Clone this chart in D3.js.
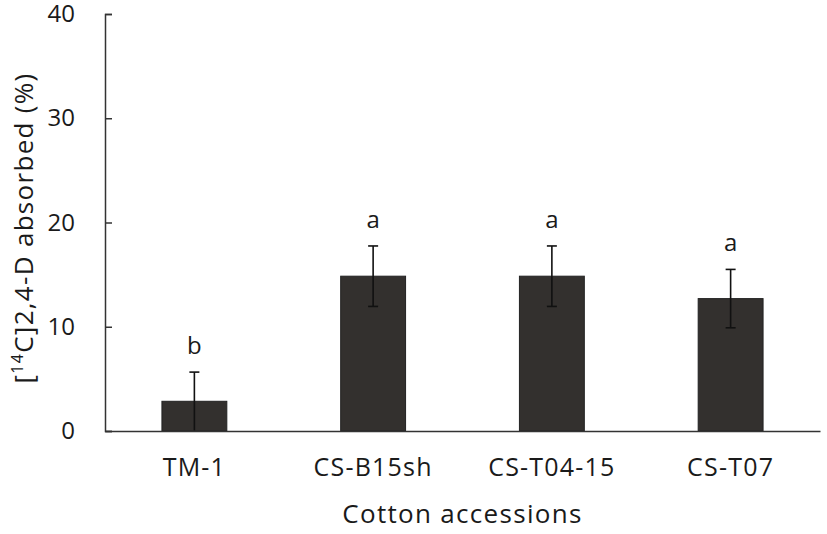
<!DOCTYPE html>
<html>
<head>
<meta charset="utf-8">
<script src="https://cdn.jsdelivr.net/npm/d3@7"></script>
<style>
  html, body { margin: 0; padding: 0; background: #fff; }
  svg { display: block; }
  text { font-family: "Open Sans", sans-serif; fill: #1a1a1a; }
</style>
</head>
<body>
<svg id="chart" width="827" height="534"></svg>
<script>
const categories = ["TM-1", "CS-B15sh", "CS-T04-15", "CS-T07"];
const values = [2.85, 14.85, 14.85, 12.7];
const errors = [2.8, 2.9, 2.9, 2.8];
const letters = ["b", "a", "a", "a"];
const yTicks = [0, 10, 20, 30, 40];

const svg = d3.select("#chart");
const mLeft = 105, mRight = 820, mTop = 14, mBottom = 431;

const x = d3.scaleBand().domain(categories).range([mLeft, mRight])
  .paddingInner(0.637).paddingOuter(0.3185);
const y = d3.scaleLinear().domain([0, 40]).range([mBottom, mTop]);

// bars
svg.selectAll("rect.bar").data(categories).enter().append("rect")
  .attr("class", "bar")
  .attr("x", d => x(d))
  .attr("width", x.bandwidth())
  .attr("y", (d, i) => y(values[i]))
  .attr("height", (d, i) => y(0) - y(values[i]))
  .attr("fill", "#33302e")
  .attr("stroke", "#222")
  .attr("stroke-width", 1);

// error bars
const cx = d => x(d) + x.bandwidth() / 2;
const eg = svg.append("g").attr("stroke", "#111").attr("stroke-width", 1.6);
categories.forEach((c, i) => {
  const lo = Math.max(0, values[i] - errors[i]);
  const hi = values[i] + errors[i];
  eg.append("line").attr("x1", cx(c)).attr("x2", cx(c)).attr("y1", y(lo)).attr("y2", y(hi));
  eg.append("line").attr("x1", cx(c) - 5).attr("x2", cx(c) + 5).attr("y1", y(hi)).attr("y2", y(hi));
  if (values[i] - errors[i] > 0.5) {
    eg.append("line").attr("x1", cx(c) - 5).attr("x2", cx(c) + 5).attr("y1", y(lo)).attr("y2", y(lo));
  }
});

// significance letters
svg.selectAll("text.sig").data(categories).enter().append("text")
  .attr("class", "sig")
  .attr("x", d => cx(d))
  .attr("y", (d, i) => y(values[i] + errors[i]) - 18)
  .attr("text-anchor", "middle")
  .attr("font-size", 24)
  .text((d, i) => letters[i]);

// y axis
const yAxis = d3.axisLeft(y).tickValues(yTicks).tickSize(-7).tickPadding(30).tickFormat(d3.format("d"));
const gy = svg.append("g").attr("transform", `translate(${mLeft},0)`).call(yAxis);
gy.select(".domain").attr("stroke", "#333").attr("stroke-width", 1.5);
gy.selectAll(".tick line").attr("stroke", "#333").attr("stroke-width", 1.5);
gy.selectAll(".tick text").attr("font-size", 24).attr("font-family", "Open Sans, sans-serif").attr("fill", "#1a1a1a");

// x axis
const xAxis = d3.axisBottom(x).tickSize(0).tickPadding(27);
const gx = svg.append("g").attr("transform", `translate(0,${mBottom})`).call(xAxis);
gx.select(".domain").attr("stroke", "#333").attr("stroke-width", 1.5);
gx.selectAll(".tick text").attr("font-size", 25).attr("letter-spacing", 1.2)
  .attr("font-family", "Open Sans, sans-serif").attr("fill", "#1a1a1a");

// axis titles
svg.append("text")
  .attr("x", (mLeft + mRight) / 2).attr("y", 523)
  .attr("text-anchor", "middle").attr("font-size", 26).attr("letter-spacing", 1.3)
  .text("Cotton accessions");

const yl = svg.append("text")
  .attr("transform", "translate(33,228) rotate(-90)")
  .attr("text-anchor", "middle").attr("font-size", 26).attr("letter-spacing", 1.3);
yl.append("tspan").text("[");
yl.append("tspan").attr("font-size", 16).attr("dy", -10).text("14");
yl.append("tspan").attr("dy", 10).text("C]2,4-D absorbed (%)");
</script>
</body>
</html>
